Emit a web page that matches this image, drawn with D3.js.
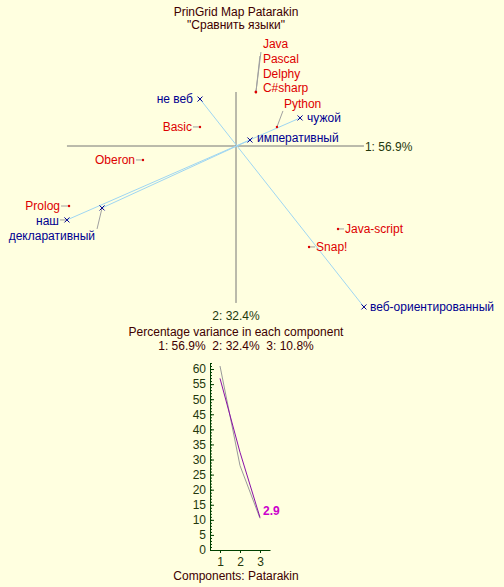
<!DOCTYPE html>
<html><head><meta charset="utf-8">
<script src="https://cdn.jsdelivr.net/npm/d3@7"></script>
<style>
body{margin:0;background:#ffffe0}
svg{display:block}
text{font-family:"Liberation Sans",Arial,sans-serif;font-size:12px}
</style>
</head><body><svg id="c" width="504" height="587"></svg>
<script>
// ---- data ----
const titleLines = ["PrinGrid Map Patarakin", "\"Сравнить языки\""];
const elementNames = ["Java","Pascal","Delphy","C#sharp","Python","Basic","Oberon","Prolog","Java-script","Snap!"];
const elementX = [0.133,0.133,0.133,0.133,0.273,-0.24,-0.62,-1.113,0.68,0.487];
const elementY = [0.36,0.36,0.36,0.36,0.127,0.127,-0.093,-0.4,-0.553,-0.673];
const poleANames = ["не веб","наш","декларативный"];
const poleAX = [-0.24,-1.127,-0.893];
const poleAY = [0.313,-0.493,-0.413];
const poleBNames = ["веб-ориентированный","чужой","императивный"];
const poleBX = [0.853,0.427,0.093];
const poleBY = [-1.073,0.187,0.04];
const components = [1,2,3];
const componentPercent = [56.9,32.4,10.8];
const referencePercent = [61,28,10.5];
const screeNote = "2.9";
const screeYTicks = d3.range(0,61,5);
const screeMinorTicks = d3.range(0,63,1);

// ---- label layout: [dx, dy, anchor, leaderDx, leaderDy] ----
const labelLayout = {
  "Java":[7,-44,"start",5,-40],
  "Pascal":[7,-29,"start"],
  "Delphy":[7,-14.5,"start"],
  "C#sharp":[7,0,"start",4,-36],
  "Python":[7,-19,"start",6,-16],
  "Basic":[-8,4,"end",-7,0],
  "Oberon":[-8,4,"end",-7,0],
  "Prolog":[-9,4,"end",-8,0],
  "Java-script":[7,4,"start",6,0],
  "Snap!":[7,4,"start",6,0],
  "не веб":[-7,4,"end"],
  "наш":[-8,5,"end",-7,0],
  "декларативный":[-7,32,"end",-5,21],
  "веб-ориентированный":[6,4,"start"],
  "чужой":[7,4,"start"],
  "императивный":[7,1.5,"start"]
};

const svg = d3.select("#c");
svg.append("rect").attr("width",504).attr("height",587).attr("fill","#ffffe0");

const maroon = "#400000", red = "#dd0000", navy = "#000090", olive = "#24380c";

// title
svg.selectAll("text.title").data(titleLines).join("text")
  .attr("x",236).attr("y",(d,i)=>16+i*12.5).attr("text-anchor","middle").attr("fill",maroon).text(d=>d);

// ---- biplot ----
const sx = d3.scaleLinear().domain([-1,1]).range([86,386]);
const sy = d3.scaleLinear().domain([-1,1]).range([296,-4]);
const elements = elementNames.map((n,i)=>({name:n,x:elementX[i],y:elementY[i]}));
const polesA = poleANames.map((n,i)=>({name:n,x:poleAX[i],y:poleAY[i]}));
const polesB = poleBNames.map((n,i)=>({name:n,x:poleBX[i],y:poleBY[i]}));
const allPts = elements.concat(polesA, polesB);
const xExt = d3.extent(allPts,d=>d.x), yExt = d3.extent(allPts,d=>d.y);

const g = svg.append("g");
g.append("line").attr("x1",sx(xExt[0])).attr("x2",sx(xExt[1])).attr("y1",sy(0)).attr("y2",sy(0)).attr("stroke","#777").attr("stroke-width",1);
g.append("line").attr("x1",sx(0)).attr("x2",sx(0)).attr("y1",sy(yExt[1])).attr("y2",sy(yExt[0])-4).attr("stroke","#777").attr("stroke-width",1);
g.append("text").attr("x",sx(xExt[1])+1).attr("y",sy(0)+5).attr("fill",olive).text("1: "+componentPercent[0]+"%");
g.append("text").attr("x",sx(0)).attr("y",sy(yExt[0])+13).attr("text-anchor","middle").attr("fill",olive).text("2: "+componentPercent[1]+"%");

// construct lines
polesA.forEach((a,i)=>{
  const b = polesB[i];
  g.append("line").attr("x1",sx(a.x)).attr("y1",sy(a.y)).attr("x2",sx(b.x)).attr("y2",sy(b.y))
    .attr("stroke","#9fd6f2").attr("stroke-width",1);
});

function leader(d){
  const L = labelLayout[d.name];
  if (L && L.length>3) {
    g.append("line").attr("x1",sx(d.x)).attr("y1",sy(d.y)).attr("x2",sx(d.x)+L[3]).attr("y2",sy(d.y)+L[4])
      .attr("stroke","#a0a0a0").attr("stroke-width",1);
  }
}
function label(d,color){
  const L = labelLayout[d.name];
  g.append("text").attr("x",sx(d.x)+L[0]).attr("y",sy(d.y)+L[1]).attr("text-anchor",L[2]).attr("fill",color).text(d.name);
}

polesA.concat(polesB).forEach(d=>{
  leader(d);
  g.append("path").attr("transform",`translate(${sx(d.x)},${sy(d.y)})`)
    .attr("d","M-2.5,-2.5L2.5,2.5M-2.5,2.5L2.5,-2.5").attr("stroke",navy).attr("stroke-width",1).attr("fill","none");
  label(d,navy);
});
elements.forEach(d=>{
  leader(d);
  g.append("circle").attr("cx",sx(d.x)).attr("cy",sy(d.y)).attr("r",1.2).attr("fill",red);
  label(d,red);
});

// ---- scree plot ----
svg.append("text").attr("x",236).attr("y",336).attr("text-anchor","middle").attr("fill",maroon).text("Percentage variance in each component");
svg.append("text").attr("x",236).attr("y",350).attr("text-anchor","middle").attr("fill",maroon)
  .text(components.map((c,i)=>c+": "+componentPercent[i]+"%").join("\u00a0\u00a0"));

const px = d3.scaleLinear().domain([0.5,3.5]).range([210,270]);
const py = d3.scaleLinear().domain([0,62]).range([550,363]);
const axisCol = "#004000";

const yMinor = svg.append("g").attr("transform","translate(210,0)")
  .call(d3.axisLeft(py).tickValues(screeMinorTicks).tickSizeInner(-2).tickSizeOuter(0).tickFormat(""));
const yMajor = svg.append("g").attr("transform","translate(210,0)")
  .call(d3.axisLeft(py).tickValues(screeYTicks).tickSizeInner(-4).tickSizeOuter(0).tickPadding(4).tickFormat(d3.format("d")));
const xAx = svg.append("g").attr("transform","translate(0,550)")
  .call(d3.axisBottom(px).tickValues(components).tickSize(3).tickSizeOuter(0).tickPadding(4).tickFormat(d3.format("d")));
[yMinor,yMajor,xAx].forEach(a=>{
  a.selectAll("path,line").attr("stroke",axisCol);
  a.selectAll("text").attr("fill",olive).style("font-size","12px").style("font-family","'Liberation Sans',Arial,sans-serif");
});

const line = d3.line().x((d,i)=>px(components[i])).y(d=>py(d));
svg.append("path").attr("d",line(referencePercent)).attr("fill","none").attr("stroke","#9a9a9a").attr("stroke-width",1);
svg.append("path").attr("d",line(componentPercent)).attr("fill","none").attr("stroke","#8a10a8").attr("stroke-width",1);
svg.append("text").attr("x",px(3)+3).attr("y",py(componentPercent[2])-2).attr("fill","#cc00cc")
  .attr("font-weight","bold").text(screeNote);
svg.append("text").attr("x",236).attr("y",580).attr("text-anchor","middle").attr("fill",maroon).text("Components: Patarakin");
</script>
</body></html>
